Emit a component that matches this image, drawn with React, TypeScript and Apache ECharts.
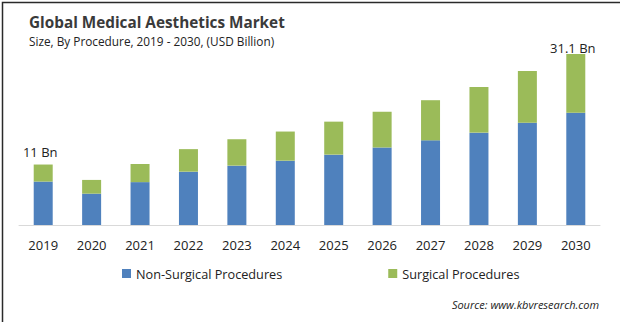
import React, { useEffect, useRef } from "react";
import * as echarts from "echarts";

const years = ["2019", "2020", "2021", "2022", "2023", "2024", "2025", "2026", "2027", "2028", "2029", "2030"];
const nonSurgical = [7.9, 5.7, 7.8, 9.7, 10.8, 11.7, 12.8, 14.1, 15.4, 16.8, 18.6, 20.4];
const surgical = [3.1, 2.5, 3.3, 4.1, 4.8, 5.3, 6.0, 6.5, 7.3, 8.3, 9.4, 10.7];
const endLabels: Record<number, string> = { 0: "11 Bn", 11: "31.1 Bn" };

const FONT = "'Open Sans', 'DejaVu Sans', sans-serif";

export default function App() {
  const ref = useRef<HTMLDivElement>(null);
  useEffect(() => {
    if (!ref.current) return;
    const chart = echarts.init(ref.current, null, { renderer: "svg" });
    chart.setOption({
      animation: false,
      backgroundColor: "#ffffff",
      title: {
        text: "Global Medical Aesthetics Market",
        subtext: "Size, By Procedure, 2019 - 2030, (USD Billion)",
        left: 24,
        top: 9,
        itemGap: 6,
        textStyle: { fontFamily: FONT, fontSize: 15.3, fontWeight: "bold", color: "#3a3a3a" },
        subtextStyle: { fontFamily: FONT, fontSize: 11.8, color: "#222" },
      },
      legend: {
        left: 117,
        top: 262,
        itemGap: 106,
        itemWidth: 9,
        itemHeight: 9,
        icon: "rect",
        textStyle: { fontFamily: FONT, fontSize: 12.7, color: "#222" },
        data: ["Non-Surgical Procedures", "Surgical Procedures"],
      },
      grid: { left: 19, right: 20, top: 5.1, bottom: 97, containLabel: false },
      xAxis: {
        type: "category",
        data: years,
        axisLine: { lineStyle: { color: "#d9d9d9", width: 1 } },
        axisTick: { show: false },
        axisLabel: { fontFamily: FONT, fontSize: 13, color: "#222", margin: 13 },
      },
      yAxis: { type: "value", min: 0, max: 40, show: false, splitLine: { show: false } },
      series: [
        {
          name: "Non-Surgical Procedures",
          type: "bar",
          stack: "total",
          barWidth: 19,
          itemStyle: { color: "#4f81bd" },
          data: nonSurgical,
        },
        {
          name: "Surgical Procedures",
          type: "bar",
          stack: "total",
          barWidth: 19,
          itemStyle: { color: "#9bbb59" },
          data: surgical.map((v, i) =>
            endLabels[i]
              ? {
                  value: v,
                  label: {
                    show: true,
                    position: "top",
                    distance: i === 0 ? 6 : 0,
                    offset: [-3, 0],
                    formatter: endLabels[i],
                    fontFamily: FONT,
                    fontSize: 13,
                    color: "#222",
                  },
                }
              : v
          ),
        },
      ],
      graphic: [
        {
          type: "text",
          right: 21,
          top: 299,
          style: {
            text: "Source: www.kbvresearch.com",
            font: `italic 11px ${FONT}`,
            fill: "#222",
          },
        },
        {
          type: "rect",
          left: 0,
          top: 0,
          shape: { x: 0.75, y: 0.75, width: 618.5, height: 320.5 },
          style: { fill: "none", stroke: "#2a2a2a", lineWidth: 1.5 },
          silent: true,
        },
      ],
    });
    return () => chart.dispose();
  }, []);
  return (
    <div
      ref={ref}
      style={{ position: "fixed", left: 0, top: 0, width: 620, height: 322 }}
    />
  );
}
